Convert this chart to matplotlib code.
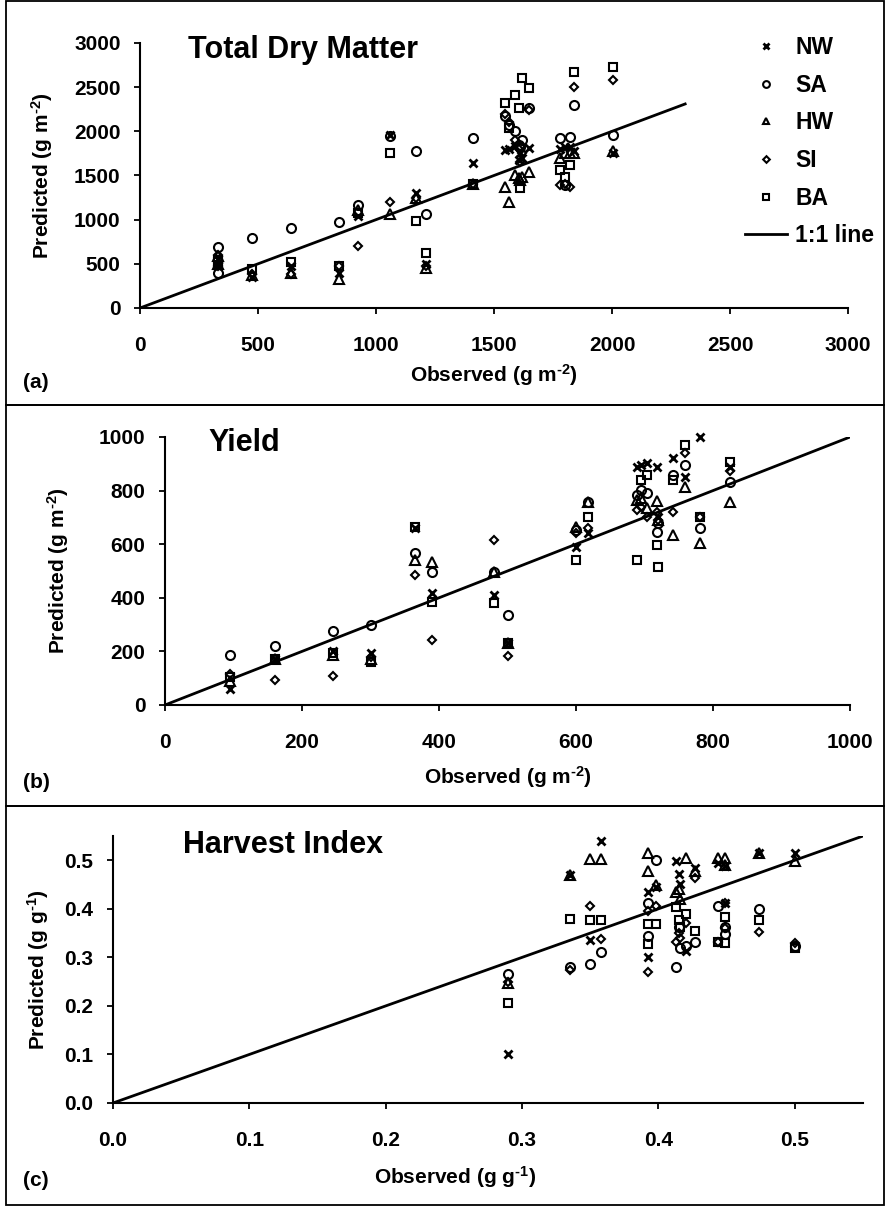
import matplotlib.pyplot as plt
from matplotlib.patches import Rectangle

plt.rcParams['font.family'] = 'Liberation Sans'
plt.rcParams['font.weight'] = 'bold'
plt.rcParams['axes.labelweight'] = 'bold'
plt.rcParams['mathtext.fontset'] = 'custom'
plt.rcParams['mathtext.rm'] = 'Liberation Sans:bold'
plt.rcParams['mathtext.bf'] = 'Liberation Sans:bold'
plt.rcParams['mathtext.default'] = 'bf'

sites = ['NW', 'SA', 'HW', 'SI', 'BA']
markers = ['x', 'o', '^', 'D', 's']
msizes = [6, 6.5, 6.5, 4.5, 6]

# (a) total dry matter, g m-2
tdm_obs = [330, 330, 475, 640, 845, 925, 1060, 1170, 1210, 1410, 1545, 1565, 1590,
           1605, 1612, 1620, 1650, 1780, 1800, 1820, 1840, 2005]
tdm_nw = [560, 480, 355, 470, 400, 1040, 1960, 1300, 500, 1640, 1790, 1800, 1830,
          1680, 1760, 1700, 1808, 1800, 1820, 1827, 1780, 1760]
tdm_sa = [690, 400, 790, 910, 978, 1170, 1950, 1780, 1060, 1920, 2170, 2072, 2000,
          1850, 1820, 1900, 2260, 1921, 1393, 1940, 2299, 1959]
tdm_hw = [590, 500, 370, 400, 330, 1110, 1060, 1240, 450, 1400, 1374, 1204, 1500,
          1470, 1450, 1480, 1544, 1700, 1760, 1752, 1752, 1780]
tdm_si = [600, 470, 390, 380, 470, 700, 1200, 1250, 480, 1400, 2200, 2100, 1900,
          1800, 1650, 1750, 2242, 1393, 1400, 1374, 2507, 2582]
tdm_ba = [540, 520, 440, 520, 470, 1080, 1760, 980, 620, 1400, 2318, 2035, 2412,
          2261, 1355, 2601, 2488, 1563, 1480, 1620, 2676, 2733]

# (b) yield, g m-2
yld_obs = [95, 160, 245, 300, 365, 390, 480, 500, 600, 618, 689, 695, 703, 718, 720,
           742, 759, 781, 825]
yld_nw = [60, 170, 200, 195, 660, 417, 410, 232, 590, 640, 888, 895, 903, 888, 700,
          922, 851, 1000, 888]
yld_sa = [185, 222, 275, 298, 568, 498, 498, 337, 652, 757, 784, 803, 790, 646, 680,
          860, 896, 660, 832]
yld_hw = [90, 170, 185, 170, 541, 535, 498, 232, 665, 757, 765, 772, 734, 761, 690,
          634, 813, 604, 757]
yld_si = [115, 95, 108, 180, 485, 244, 615, 183, 640, 660, 727, 740, 700, 720, 690,
          720, 940, 701, 875]
yld_ba = [105, 170, 195, 160, 664, 386, 380, 232, 541, 701, 541, 840, 860, 597, 515,
          840, 970, 701, 907]

# (c) harvest index, g g-1
hi_obs = [0.29, 0.335, 0.35, 0.358, 0.392, 0.392, 0.398, 0.413, 0.415, 0.416, 0.42,
          0.427, 0.444, 0.449, 0.449, 0.474, 0.5]
hi_nw = [0.10, 0.47, 0.335, 0.540, 0.434, 0.301, 0.444, 0.499, 0.471, 0.451, 0.314,
         0.485, 0.495, 0.488, 0.413, 0.516, 0.516]
hi_sa = [0.265, 0.28, 0.287, 0.311, 0.413, 0.345, 0.500, 0.280, 0.362, 0.320, 0.324,
         0.331, 0.406, 0.362, 0.348, 0.400, 0.324]
hi_hw = [0.248, 0.47, 0.502, 0.502, 0.516, 0.478, 0.450, 0.434, 0.440, 0.420, 0.505,
         0.478, 0.505, 0.505, 0.490, 0.516, 0.499]
hi_si = [0.25, 0.275, 0.406, 0.338, 0.270, 0.396, 0.405, 0.331, 0.350, 0.340, 0.370,
         0.464, 0.331, 0.413, 0.360, 0.352, 0.330]
hi_ba = [0.205, 0.378, 0.377, 0.376, 0.328, 0.369, 0.369, 0.403, 0.376, 0.362, 0.389,
         0.355, 0.331, 0.383, 0.329, 0.376, 0.320]

W, H = 886, 1206
fig = plt.figure(figsize=(W / 100, H / 100), dpi=100)


def px_axes(left, right, top, bottom):
    return fig.add_axes([left / W, 1 - bottom / H, (right - left) / W, (bottom - top) / H])


def panel(ax, obs, preds, lim, ticks, line_end, title, tag, xlab, ylab,
          xlab_pos, ylab_x, title_pos, tag_y, fmt=None):
    for vals, m, ms, s in zip(preds, markers, msizes, sites):
        ax.plot(obs, vals, ls='none', marker=m, ms=ms, mfc='none', mec='black',
                mew=2.0 if m == 'x' else 1.5, color='black', label=s, clip_on=False)
    ax.plot([0, line_end], [0, line_end], color='black', lw=2, label='1:1 line')
    ax.set_xlim(0, lim)
    ax.set_ylim(0, lim)
    ax.set_xticks(ticks)
    ax.set_yticks(ticks)
    if fmt:
        ax.set_xticklabels([fmt.format(t) for t in ticks])
        ax.set_yticklabels([fmt.format(t) for t in ticks])
    for side in ['top', 'right']:
        ax.spines[side].set_visible(False)
    for side in ['left', 'bottom']:
        ax.spines[side].set_linewidth(1.5)
    ax.tick_params(axis='both', direction='out', length=4, width=1.3, labelsize=15)
    ax.tick_params(axis='x', pad=16)
    ax.tick_params(axis='y', pad=10)
    ax.set_xlabel(xlab, fontsize=15, fontweight='bold', va='center')
    ax.xaxis.set_label_coords(*xlab_pos)
    ax.set_ylabel(ylab, fontsize=15, fontweight='bold', va='center')
    ax.yaxis.set_label_coords(ylab_x, 0.5)
    fig.text(title_pos[0] / W, 1 - title_pos[1] / H, title, fontsize=22,
             ha='left', va='center')
    fig.text(23 / W, 1 - tag_y / H, tag, fontsize=15, ha='left', va='center')


gm2 = r'(g m$^{\text{-}2}$)'
gg1 = r'(g g$^{\text{-}1}$)'

ax1 = px_axes(140, 848, 43, 308)
panel(ax1, tdm_obs, [tdm_nw, tdm_sa, tdm_hw, tdm_si, tdm_ba], 3000,
      range(0, 3001, 500), 2310, 'Total Dry Matter', '(a)',
      'Observed ' + gm2, 'Predicted ' + gm2, (0.5, -0.253), -0.138, (188, 50), 383)
leg = ax1.legend(loc='upper left', bbox_to_anchor=(745 / W, 1 - 36 / H),
                 bbox_transform=fig.transFigure, frameon=False, fontsize=16.5,
                 markerscale=0.75, handlelength=1.85, handletextpad=0.35,
                 labelspacing=0.64, borderpad=0, borderaxespad=0)

ax2 = px_axes(165, 850, 437, 705)
panel(ax2, yld_obs, [yld_nw, yld_sa, yld_hw, yld_si, yld_ba], 1000,
      range(0, 1001, 200), 1000, 'Yield', '(b)',
      'Observed ' + gm2, 'Predicted ' + gm2, (0.5, -0.269), -0.156, (208, 443), 782)

ax3 = px_axes(113, 863, 836, 1103)
panel(ax3, hi_obs, [hi_nw, hi_sa, hi_hw, hi_si, hi_ba], 0.55,
      [0.0, 0.1, 0.2, 0.3, 0.4, 0.5], 0.55, 'Harvest Index', '(c)',
      'Observed ' + gg1, 'Predicted ' + gg1, (0.456, -0.277), -0.1,
      (183, 845), 1180, fmt='{:.1f}')

# frames round each panel
for top, bottom in [(1, 405), (405, 806), (806, 1205)]:
    fig.add_artist(Rectangle((6 / W, 1 - bottom / H), (884 - 6) / W, (bottom - top) / H,
                             transform=fig.transFigure, fill=False, lw=1.3,
                             edgecolor='black'))

fig.savefig('out.png', dpi=100)
